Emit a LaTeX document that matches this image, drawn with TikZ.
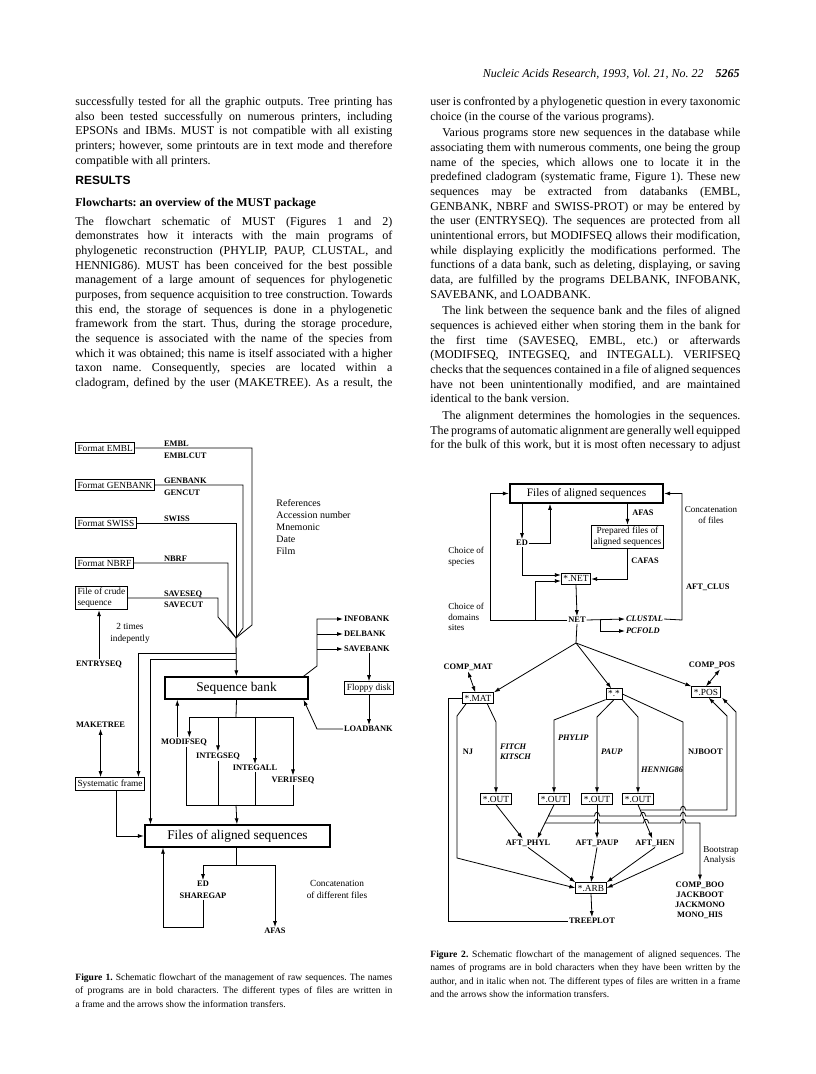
\documentclass[tikz,border=0pt]{standalone}
\usepackage{fontspec}
\setmainfont{Liberation Serif}
\newfontfamily\headsans{Liberation Sans}
\usetikzlibrary{arrows.meta,positioning}

\begin{document}
\frenchspacing
\begin{tikzpicture}[x=0.75pt, y=-0.75pt, line width=0.6pt, >={Latex[length=4.5pt,width=3pt]},
  bodytext/.style={anchor=base west, inner sep=0pt, text width=237.75pt, align=justify, font=\fontsize{9}{11}\selectfont},
  capt/.style={bodytext, font=\fontsize{7.2}{10}\selectfont},
  filebox/.style={draw, line width=0.6pt, inner sep=1.6pt, font=\fontsize{7}{8}\selectfont},
  bigbox/.style={draw, line width=1.5pt, inner sep=1pt, minimum width=107pt, minimum height=16pt, font=\fontsize{10}{12}\selectfont},
  prog/.style={inner sep=0.5pt, font=\fontsize{6.3}{7.5}\selectfont\bfseries},
  iprog/.style={inner sep=0.5pt, font=\fontsize{6.3}{7.5}\selectfont\bfseries\itshape},
  note/.style={inner sep=0pt, align=center, font=\fontsize{7}{9}\selectfont}]
\useasboundingbox (0,0) rectangle (816,1074);

\node[anchor=base east, inner sep=0pt, font=\fontsize{9}{11}\selectfont\itshape] (runhead) at (740,78) {Nucleic Acids Research, 1993, Vol. 21, No. 22\quad\textbf{5265}};

\node[bodytext] (lcol) at (75,105.5) {\noindent successfully tested for all the graphic outputs. Tree printing has\linebreak also been tested successfully on numerous printers, including\linebreak EPSONs and IBMs. MUST is not compatible with all existing\linebreak printers; however, some printouts are in text mode and therefore\linebreak compatible with all printers.};
\node[anchor=base west, inner sep=0pt, font=\fontsize{9}{11}\selectfont\headsans\bfseries] (results) at (75,184.5) {RESULTS};
\node[anchor=base west, inner sep=0pt, font=\fontsize{9}{11}\selectfont\bfseries] (flowhead) at (75,206) {Flowcharts: an overview of the MUST package};
\node[bodytext] (lpara) at (75,225) {\parindent=9pt The flowchart schematic of MUST (Figures 1 and 2)\linebreak demonstrates how it interacts with the main programs of\linebreak phylogenetic reconstruction (PHYLIP, PAUP, CLUSTAL, and\linebreak HENNIG86). MUST has been conceived for the best possible\linebreak management of a large amount of sequences for phylogenetic\linebreak purposes, from sequence acquisition to tree construction. Towards\linebreak this end, the storage of sequences is done in a phylogenetic\linebreak framework from the start. Thus, during the storage procedure,\linebreak the sequence is associated with the name of the species from\linebreak which it was obtained; this name is itself associated with a higher\linebreak taxon name. Consequently, species are located within a\linebreak cladogram, defined by the user (MAKETREE). As a result, the\parfillskip=0pt\par};

\node[bodytext, text width=232.5pt] (rcol) at (430,105.5) {\hyphenpenalty=10000\parskip=1.5pt\parindent=9pt\noindent user is confronted by a phylogenetic question in every taxonomic\linebreak choice (in the course of the various programs).\par
Various programs store new sequences in the database while\linebreak associating them with numerous comments, one being the group\linebreak name of the species, which allows one to locate it in the\linebreak predefined cladogram (systematic frame, Figure 1). These new\linebreak sequences may be extracted from databanks (EMBL,\linebreak GENBANK, NBRF and SWISS-PROT) or may be entered by\linebreak the user (ENTRYSEQ). The sequences are protected from all\linebreak unintentional errors, but MODIFSEQ allows their modification,\linebreak while displaying explicitly the modifications performed. The\linebreak functions of a data bank, such as deleting, displaying, or saving\linebreak data, are fulfilled by the programs DELBANK, INFOBANK,\linebreak SAVEBANK, and LOADBANK.\par
The link between the sequence bank and the files of aligned\linebreak sequences is achieved either when storing them in the bank for\linebreak the first time (SAVESEQ, EMBL, etc.) or afterwards\linebreak (MODIFSEQ, INTEGSEQ, and INTEGALL). VERIFSEQ\linebreak checks that the sequences contained in a file of aligned sequences\linebreak have not been unintentionally modified, and are maintained\linebreak identical to the bank version.\par
The alignment determines the homologies in the sequences.\linebreak The programs of automatic alignment are generally well equipped\linebreak for the bulk of this work, but it is most often necessary to adjust\parfillskip=0pt\par};

\node[filebox, anchor=west] (fembl) at (75,448) {Format EMBL};
\node[filebox, anchor=west] (fgen) at (75,485) {Format GENBANK};
\node[filebox, anchor=west] (fswiss) at (75,523) {Format SWISS};
\node[filebox, anchor=west] (fnbrf) at (75,563) {Format NBRF};
\node[filebox, anchor=west, align=left] (crude) at (75,598) {File of crude\\sequence};
\node[prog, anchor=base west] (embl) at (163,446.5) {EMBL};
\node[prog, anchor=north west] (emblcut) at (163,451.5) {EMBLCUT};
\node[prog, anchor=base west] (genbank) at (163,483.5) {GENBANK};
\node[prog, anchor=north west] (gencut) at (163,488.5) {GENCUT};
\node[prog, anchor=base west] (swiss) at (163,521) {SWISS};
\node[prog, anchor=base west] (nbrf) at (163,561.5) {NBRF};
\node[prog, anchor=base west] (saveseq) at (163,596) {SAVESEQ};
\node[prog, anchor=north west] (savecut) at (163,601) {SAVECUT};
\node[note, align=left, anchor=north west, font=\fontsize{7.5}{9}\selectfont] (refs) at (276,499) {References\\Accession number\\Mnemonic\\Date\\Film};
\coordinate (conv) at (236,638);
\draw (fembl.east) -| (252,625) -- (conv);
\draw (fgen.east) -| (243,628) -- (conv);
\draw (fswiss.east) -| (conv);
\draw (fnbrf.east) -| (228,627) -- (conv);
\draw (crude.east) -| (218,617) -- (conv);
\node[note] (twice) at (130,633) {2 times\\indepently};
\node[prog, anchor=west] (entry) at (75,664) {ENTRYSEQ};
\draw[->] (entry.north) -- (entry.north |- crude.south);

\node[bigbox] (bank) at (236.5,688) {Sequence bank};
\node[filebox, anchor=west] (sysf) at (75,784) {Systematic frame};
\node[bigbox, minimum width=139pt] (files1) at (237.5,836) {Files of aligned sequences};
\coordinate (br1) at (236,653);
\coordinate (br2) at (236,659);
\draw[->] (conv) -- (bank);
\draw[->] (br1) -| ([xshift=-5pt]sysf.north east);
\draw[->] (br2) -| ([xshift=5pt]files1.north west);
\node[prog, anchor=west] (maketree) at (75,725) {MAKETREE};
\draw[<->] (maketree.south) -- (maketree.south |- sysf.north);
\draw[->] ([xshift=4.5pt]sysf.south) |- (files1.west);

\node[prog] (modif) at (184,742) {MODIFSEQ};
\node[prog] (integseq) at (218,756) {INTEGSEQ};
\node[prog] (integall) at (255,768) {INTEGALL};
\node[prog] (verif) at (293,780) {VERIFSEQ};
\coordinate (split) at (236,717);
\coordinate (merge) at (236,805);
\draw (bank.south) -- (split);
\draw[->] (split) -| ([xshift=4pt]modif.north);
\draw[->] (split) -| (verif.north);
\draw[->] (split -| integseq) -- (integseq.north);
\draw[->] (split -| integall) -- (integall.north);
\draw ([xshift=1.5pt]modif.south) |- (merge);
\draw (verif.south) |- (merge);
\draw (integseq.south) -- (integseq.south |- merge);
\draw (integall.south) -- (integall.south |- merge);
\draw[->] (merge) -- (files1);
\draw[->] ([xshift=-5pt]modif.north) -- ([xshift=-5pt]modif.north |- bank.south);

\node[prog, anchor=west] (infob) at (343,619) {INFOBANK};
\node[prog, anchor=west] (delb) at (343,634) {DELBANK};
\node[prog, anchor=west] (saveb) at (343,649) {SAVEBANK};
\node[filebox] (floppy) at (369,688) {Floppy disk};
\node[prog, anchor=west] (loadb) at (343,729) {LOADBANK};
\coordinate (rail) at (317,666);
\coordinate (lrail) at (317,729);
\draw[->] ([xshift=-4pt]bank.north east) -- (rail) |- (infob.west);
\draw[->] (rail |- delb.west) -- (delb.west);
\draw[->] (rail |- saveb.west) -- (saveb.west);
\draw[->] (saveb.south -| floppy) -- (floppy.north);
\draw[->] (floppy.south) -- (floppy.south |- loadb.north);
\draw[->] (loadb.west) -- (lrail) -- ([xshift=-4pt]bank.south east);

\node[prog, align=center, font=\fontsize{6.3}{9}\selectfont\bfseries] (ed1) at (203,890) {ED\\SHAREGAP};
\node[prog] (afas1) at (275,931) {AFAS};
\node[note] (concat1) at (337,889) {Concatenation\\of different files};
\coordinate (f1split) at (236,865);
\coordinate (edloop) at (163,927);
\draw (files1.south -| f1split) -- (f1split);
\draw[->] (f1split) -| (ed1.north);
\draw[->] (f1split) -| (afas1.north);
\draw[->] (ed1.south) |- (edloop) -- (edloop |- files1.south);

\node[bigbox, minimum width=115pt, minimum height=14pt, font=\fontsize{8.5}{10}\selectfont] (files2) at (586.5,493.5) {Files of aligned sequences};
\node[prog] (ed2) at (522,543) {ED};
\node[filebox, align=center] (prep) at (627.5,537) {Prepared files of\\aligned sequences};
\node[prog] (afas2) at (643,513) {AFAS};
\node[prog] (cafas) at (645,561) {CAFAS};
\node[filebox] (netf) at (576,579) {*.NET};
\node[prog] (net) at (577,620) {NET};
\node[iprog, anchor=west] (clustal) at (625,619) {CLUSTAL};
\node[iprog, anchor=west] (pcfold) at (625,631) {PCFOLD};
\node[note, font=\fontsize{6.8}{8}\selectfont] (concat2) at (711,515) {Concatenation\\of files};
\node[prog, anchor=west] (aftclus) at (685,587) {AFT\_CLUS};
\node[note, align=left, anchor=west, font=\fontsize{6.8}{8}\selectfont] (chsp) at (448,557) {Choice of\\species};
\node[note, align=left, anchor=west, font=\fontsize{6.8}{8}\selectfont] (chdom) at (448,617) {Choice of\\domains\\sites};
\coordinate (edup) at (550,543);
\coordinate (chloop) at (490,620);
\coordinate (dmloop) at (535,620);
\coordinate (pcb) at (600,620);
\coordinate (ccl) at (682,620);
\draw[->] (files2.south -| ed2) -- (ed2.north);
\draw[->] (ed2.east) -- (edup) -- (edup |- files2.south);
\draw[->] (files2.south -| prep) -- (prep.north);
\draw[->] (ed2.south) |- ([yshift=3pt]netf.west);
\draw[->] (prep.south) |- (netf.east);
\draw[->] (netf.south) -- (net.north);
\draw[->] (net.west) -- (chloop) |- (files2.west);
\draw[->] (dmloop) |- ([yshift=-1.5pt]netf.west);
\draw[->] (net.east) -- (clustal.west);
\draw[->] (pcb) |- (pcfold.west);
\draw[->] (clustal.east) -- (ccl) |- (files2.east);

\node[filebox] (matf) at (478,698) {*.MAT};
\node[filebox] (allf) at (614,694) {*.*};
\node[filebox] (posf) at (706,692) {*.POS};
\node[prog] (compmat) at (468,667) {COMP\_MAT};
\node[prog] (comppos) at (712,665) {COMP\_POS};
\coordinate (fan) at (576,643);
\draw (net.south) -- (fan);
\draw[->] (fan) -- (matf.north east);
\draw[->] (fan) -- ([xshift=-2pt]allf.north);
\draw[->] (fan) -- (posf.north west);
\draw[<->] (compmat.south) -- ([xshift=-2pt]matf.north);
\draw[<->] ([xshift=6pt]comppos.south) -- (posf.north);

\node[filebox] (out1) at (496,799) {*.OUT};
\node[filebox] (out2) at (554,799) {*.OUT};
\node[filebox] (out3) at (597,799) {*.OUT};
\node[filebox] (out4) at (638,799) {*.OUT};
\node[iprog, anchor=west, align=left, font=\fontsize{6.3}{7.5}\selectfont\bfseries\itshape] (fitch) at (499,752) {FITCH\\KITSCH};
\node[iprog, anchor=west] (phylip) at (557,738) {PHYLIP};
\node[iprog, anchor=west] (paup) at (600,752) {PAUP};
\node[iprog, anchor=west] (hennig) at (640,770) {HENNIG86};
\node[prog, anchor=west] (njboot) at (687,752) {NJBOOT};
\node[prog] (nj) at (468,752) {NJ};
\draw[->] ([xshift=-5pt]matf.south east) -- (496,722) -- (out1.north);
\draw[->] (allf.south west) -- (554,720) -- (out2.north);
\draw[->] (allf.south) -- (597,717) -- (out3.north);
\draw[->] (allf.south east) -- (638,717) -- (out4.north);

\node[filebox] (arb) at (591,888) {*.ARB};
\node[prog] (aftphyl) at (528,843) {AFT\_PHYL};
\node[prog] (aftpaup) at (597,843) {AFT\_PAUP};
\node[prog] (afthen) at (655,843) {AFT\_HEN};
\node[prog] (treeplot) at (592,921) {TREEPLOT};
\draw[->] (out1.south) -- ([xshift=-4pt]aftphyl.north);
\draw[->] (out2.south) -- ([xshift=7pt]aftphyl.north);
\draw[->] (out3.south) -- (aftpaup.north);
\draw[->] (out4.south) -- ([xshift=-2pt]afthen.north);
\draw[->] (aftphyl.south) -- (arb.north west);
\draw[->] (aftpaup.south) -- (arb.north);
\draw[->] (afthen.south) -- (arb.north east);
\draw[->] (arb.south) -- (treeplot.north);
\draw[->] (allf.east) -- (683,722) -- (683,853) -- (arb.east);
\draw[->] ([xshift=3pt]matf.south west) -- (457,716) -- (457,858) -- (arb.west);
\coordinate (tpl) at (448,698);
\draw (matf.west) -- (tpl) |- (treeplot.west);

\node[prog, align=center] (boot) at (700,900) {COMP\_BOO\\JACKBOOT\\JACKMONO\\MONO\_HIS};
\node[note, align=left, anchor=west, font=\fontsize{6.8}{7}\selectfont] (bootlab) at (703,855.5) {Bootstrap\\Analysis};
\coordinate (l1) at (640.5,810);
\coordinate (l2) at (548,816);
\coordinate (l3) at (544.5,823);
\draw[->] (l1) -- (680.5,810) .. controls (680.5,805) and (685.5,805) .. (685.5,810) -- (727,810) -- (727,716) -- ([xshift=-9pt]posf.south east);
\draw[->] (l2) -- (594.5,816) .. controls (594.5,811) and (599.5,811) .. (599.5,816) -- (640.5,816) .. controls (640.5,811) and (645.5,811) .. (645.5,816) -- (680.5,816) .. controls (680.5,811) and (685.5,811) .. (685.5,816) -- (736,816) -- (736,712) -- ([xshift=1pt]posf.south east);
\draw[->] (l3) -- (594.5,823) .. controls (594.5,818) and (599.5,818) .. (599.5,823) -- (643.5,823) .. controls (643.5,818) and (648.5,818) .. (648.5,823) -- (680.5,823) .. controls (680.5,818) and (685.5,818) .. (685.5,823) -- (700,823) -- (boot.north);

\node[capt] (cap1) at (75,980.5) {\noindent\textbf{Figure 1.} Schematic flowchart of the management of raw sequences. The names\linebreak of programs are in bold characters. The different types of files are written in\linebreak a frame and the arrows show the information transfers.};
\node[capt, text width=232.5pt] (cap2) at (430,957.5) {\noindent\textbf{Figure 2.} Schematic flowchart of the management of aligned sequences. The\linebreak names of programs are in bold characters when they have been written by the\linebreak author, and in italic when not. The different types of files are written in a frame\linebreak and the arrows show the information transfers.};
\end{tikzpicture}
\end{document}
